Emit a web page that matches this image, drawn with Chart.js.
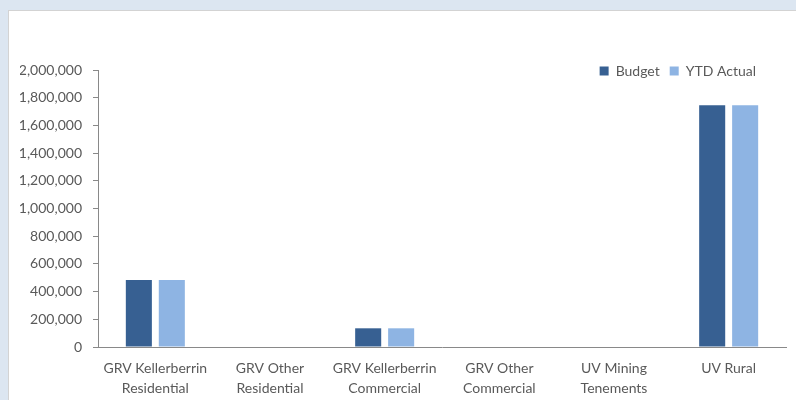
<!DOCTYPE html>
<html>
<head>
<meta charset="utf-8">
<script src="https://cdn.jsdelivr.net/npm/chart.js@4/dist/chart.umd.min.js"></script>
<style>
    html, body { margin: 0; padding: 0; }
    body { width: 796px; height: 400px; background: #dce6f1; position: relative; overflow: hidden; }
    #panel { position: absolute; left: 8px; top: 10px; width: 788px; height: 390px; background: #fff; border-left: 1px solid #d3d3d3; border-top: 1px solid #d3d3d3; box-sizing: border-box; }
    #ratesChart { position: absolute; left: 0; top: 0; }
</style>
</head>
<body>
<div id="panel"></div>
<canvas id="ratesChart" width="796" height="400"></canvas>
<script>
// Rate categories (two-line axis labels)
const categories = [
    ['GRV Kellerberrin', 'Residential'],
    ['GRV Other', 'Residential'],
    ['GRV Kellerberrin', 'Commercial'],
    ['GRV Other', 'Commercial'],
    ['UV Mining', 'Tenements'],
    ['UV Rural']
];

const budget = [484000, 0, 135000, 0, 0, 1745000];
const ytdActual = [484000, 0, 135000, 0, 0, 1745000];

const yTicks = [0, 200000, 400000, 600000, 800000, 1000000, 1200000, 1400000, 1600000, 1800000, 2000000];

const FONT = 'Lato, "Open Sans", sans-serif';
const TEXT = '#595959';
const AXIS = '#898989';

// move the legend down onto the top line of the plot, like the original
const legendShift = {
    id: 'legendShift',
    afterLayout(chart) {
        const lg = chart.legend;
        if (!lg) return;
        const h = lg.bottom - lg.top;
        lg.top = chart.chartArea.top - 16;
        lg.bottom = lg.top + h;
        lg.left -= 20;
        lg.right -= 20;
    }
};

const ctx = document.getElementById('ratesChart').getContext('2d');

new Chart(ctx, {
    type: 'bar',
    data: {
        labels: categories,
        datasets: [
            {
                label: 'Budget',
                data: budget,
                backgroundColor: '#376092',
                borderWidth: 0,
                categoryPercentage: 0.575,
                barPercentage: 0.79
            },
            {
                label: 'YTD Actual',
                data: ytdActual,
                backgroundColor: '#8eb4e3',
                borderWidth: 0,
                categoryPercentage: 0.575,
                barPercentage: 0.79
            }
        ]
    },
    options: {
        responsive: false,
        devicePixelRatio: 1,
        animation: false,
        layout: {
            padding: { left: 20, top: 36, right: 10, bottom: 0 }
        },
        plugins: {
            legend: {
                position: 'top',
                align: 'end',
                labels: {
                    boxWidth: 9,
                    boxHeight: 9,
                    padding: 10,
                    color: TEXT,
                    font: { family: FONT, size: 14 }
                }
            },
            tooltip: { enabled: false }
        },
        scales: {
            x: {
                grid: { display: false, drawTicks: false },
                border: { display: true, color: AXIS, width: 1 },
                ticks: {
                    color: TEXT,
                    padding: 11,
                    maxRotation: 0,
                    autoSkip: false,
                    font: { family: FONT, size: 14, lineHeight: 1.43 }
                },
                afterFit: (scale) => { scale.height = 53; }
            },
            y: {
                min: 0,
                max: 2000000,
                afterBuildTicks: (scale) => { scale.ticks = yTicks.map(v => ({ value: v })); },
                grid: {
                    drawOnChartArea: false,
                    drawTicks: true,
                    tickLength: 5,
                    color: AXIS
                },
                border: { display: true, color: AXIS, width: 1 },
                ticks: {
                    color: TEXT,
                    padding: 11,
                    font: { family: FONT, size: 14 },
                    callback: (v) => Number(v).toLocaleString('en-US')
                },
                afterFit: (scale) => { scale.width = 78; }
            }
        }
    },
    plugins: [legendShift]
});
</script>
</body>
</html>
